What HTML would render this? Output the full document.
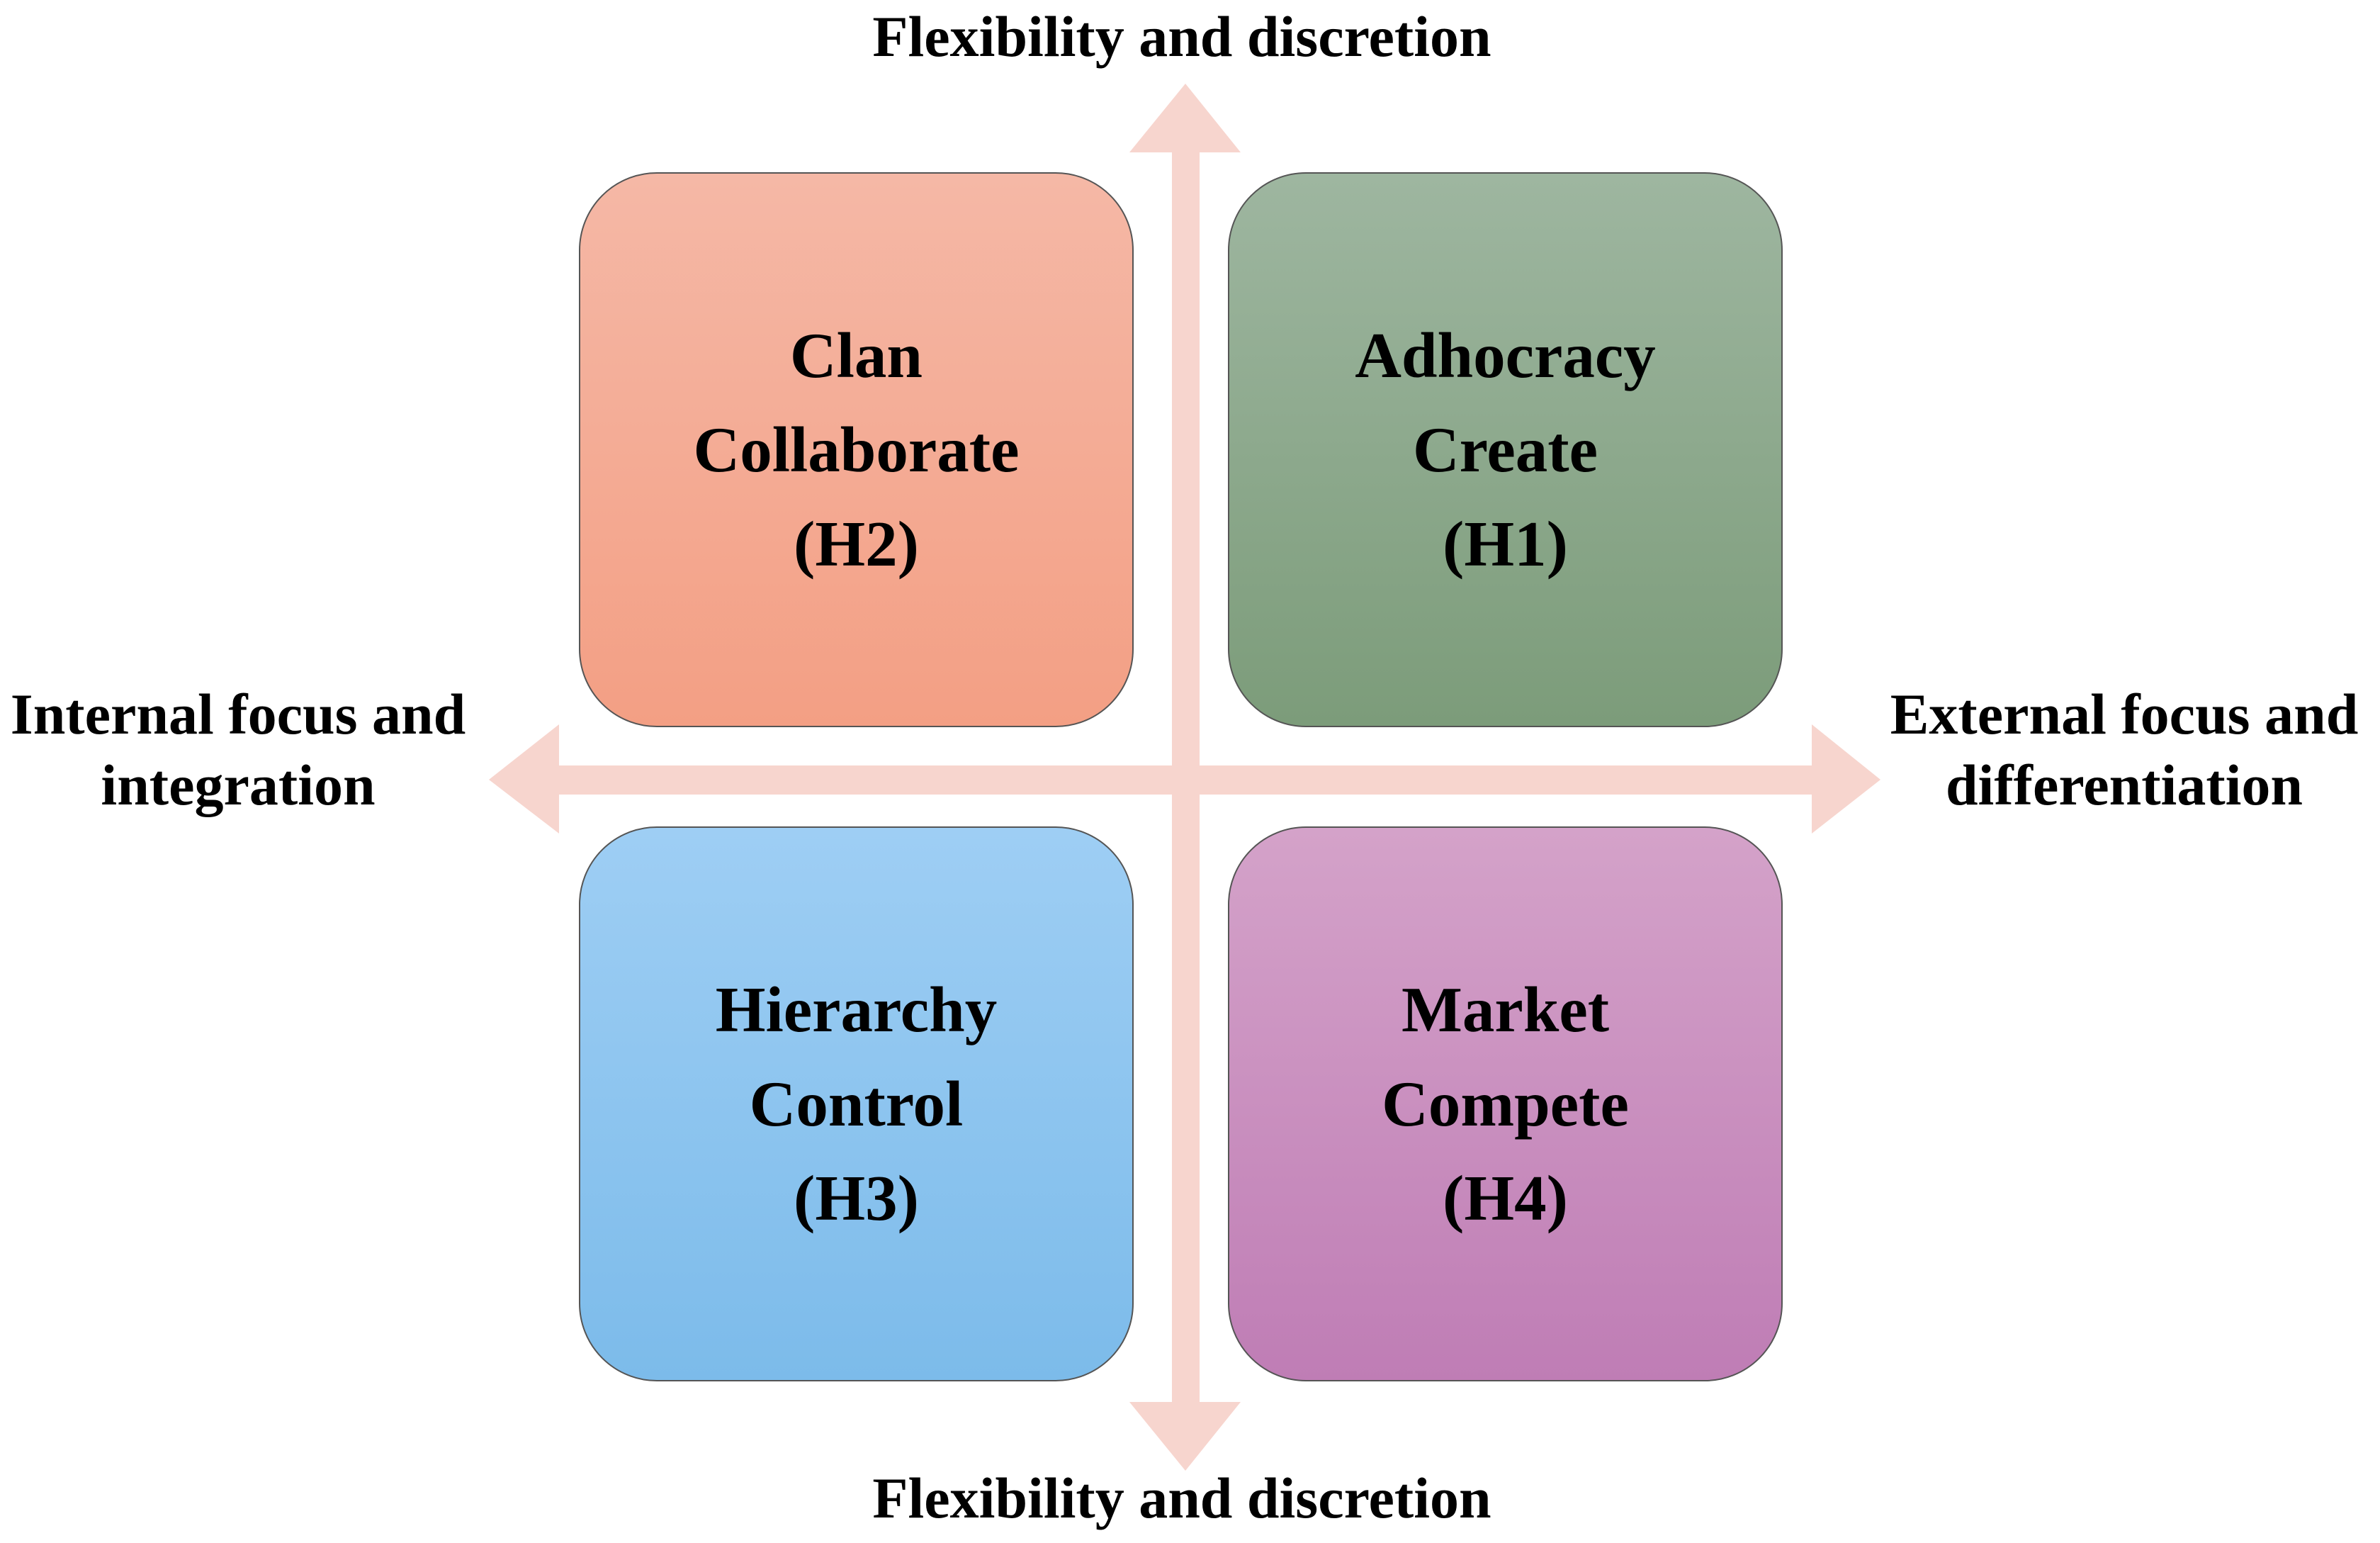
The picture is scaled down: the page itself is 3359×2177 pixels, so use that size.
<!DOCTYPE html>
<html><head><meta charset="utf-8"><style>
html,body{margin:0;padding:0;background:#fff;}
body{width:3359px;height:2177px;position:relative;overflow:hidden;font-family:"Liberation Serif",serif;font-weight:bold;color:#000;}
.box{position:absolute;width:783px;height:783px;border-radius:110px;border:2px solid #555;box-sizing:border-box;display:flex;align-items:center;justify-content:center;text-align:center;font-size:91px;line-height:133px;}
.lbl{position:absolute;font-size:82px;line-height:100px;text-align:center;white-space:nowrap;transform:translate(-50%,-50%);}
</style></head><body>
<svg width="3359" height="2177" style="position:absolute;left:0;top:0">
<g fill="#F7D5CE">
<rect x="1654" y="210" width="39" height="1773"/>
<polygon points="1673,118 1594,215 1751,215"/>
<polygon points="1673,2075 1594,1978 1751,1978"/>
<rect x="784" y="1080" width="1778" height="41"/>
<polygon points="690,1100 789,1022 789,1176"/>
<polygon points="2654,1100 2557,1022 2557,1176"/>
</g>
</svg>
<div class="box" style="left:817px;top:243px;background:linear-gradient(#F5B8A6,#F39F84);">Clan<br>Collaborate<br>(H2)</div>
<div class="box" style="left:1733px;top:243px;background:linear-gradient(#9EB6A0,#7C9C7A);">Adhocracy<br>Create<br>(H1)</div>
<div class="box" style="left:817px;top:1166px;background:linear-gradient(#9ECEF4,#7CBBEA);">Hierarchy<br>Control<br>(H3)</div>
<div class="box" style="left:1733px;top:1166px;background:linear-gradient(#D4A2C9,#BF7DB5);">Market<br>Compete<br>(H4)</div>
<div class="lbl" style="left:1668px;top:52px;">Flexibility and discretion</div>
<div class="lbl" style="left:1668px;top:2114px;">Flexibility and discretion</div>
<div class="lbl" style="left:336px;top:1058px;">Internal focus and<br>integration</div>
<div class="lbl" style="left:2998px;top:1058px;">External focus and<br>differentiation</div>
</body></html>
